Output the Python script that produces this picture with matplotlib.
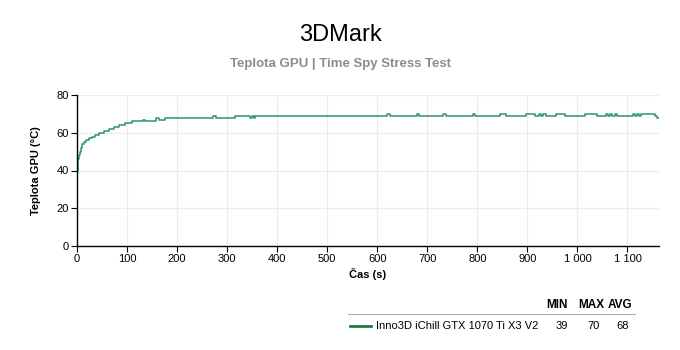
import matplotlib.pyplot as plt

plt.rcParams["font.family"] = ["Liberation Sans", "DejaVu Sans"]

# ----------------------------------------------------------------------
# Data
# ----------------------------------------------------------------------
TITLE = "3DMark"
SUBTITLE = "Teplota GPU | Time Spy Stress Test"
SERIES = "Inno3D iChill GTX 1070 Ti X3 V2"

time_s = [0, 1, 2, 3, 5, 7, 10, 14, 18, 23, 29, 36, 44, 54, 64, 74, 84, 95,
          110, 132, 135, 158, 163, 176, 272, 278, 315, 345, 350, 353, 356,
          620, 625, 680, 684, 732, 737, 792, 796, 845, 858, 897, 916, 923,
          928, 932, 937, 958, 976, 1015, 1040, 1057, 1062, 1066, 1070, 1075,
          1080, 1112, 1116, 1120, 1124, 1128, 1155, 1160, 1163]
temp_c = [39, 44, 46, 48, 50, 52, 54, 55, 56, 57, 58, 59, 60, 61, 62, 63, 64, 65,
          66, 67, 66, 68, 67, 68, 69, 68, 69, 68, 69, 68, 69,
          70, 69, 70, 69, 70, 69, 70, 69, 70, 69, 70, 69, 70,
          69, 70, 69, 70, 69, 70, 69, 70, 69, 70, 69, 70,
          69, 70, 69, 70, 69, 70, 69, 68, 68]

stat_names = ["MIN", "MAX", "AVG"]
stat_values = [39, 70, 68]

LINE = "#2a9660"
LEGEND_LINE = "#1b7f45"

# ----------------------------------------------------------------------
# Figure
# ----------------------------------------------------------------------
fig = plt.figure(figsize=(6.8, 3.5), dpi=100)
fig.patch.set_facecolor("white")

ax = fig.add_axes([77 / 680, 1 - 246 / 350, (659 - 77) / 680, (246 - 95) / 350])
ax.plot(time_s, temp_c, drawstyle="steps-post", color=LINE, lw=1.1)

ax.set_xlim(0, 1163)
ax.set_ylim(0, 80)
ax.set_xticks(range(0, 1101, 100))
ax.set_xticklabels([f"{v:,}".replace(",", " ") for v in range(0, 1101, 100)])
ax.set_yticks(range(0, 81, 20))
ax.grid(True, color="#ececec", lw=0.8)
ax.set_axisbelow(True)
for s in ("top", "right"):
    ax.spines[s].set_visible(False)
for s in ("left", "bottom"):
    ax.spines[s].set_color("black")
    ax.spines[s].set_linewidth(1.0)
ax.tick_params(length=4, width=0.8, labelsize=8, colors="black", pad=2)

ax.set_xlabel("Čas (s)", fontsize=8, fontweight="bold", labelpad=3)
ax.set_ylabel("Teplota GPU (°C)", fontsize=8, fontweight="bold", labelpad=11)

fig.text(0.5, 1 - 35 / 350, TITLE, ha="center", va="center", fontsize=17)
fig.text(0.5, 1 - 64 / 350, SUBTITLE, ha="center", va="center",
         fontsize=9.5, fontweight="bold", color="#8c8c8c")

# Legend table
stat_x = [557 / 680, 591 / 680, 620 / 680]
for x, name in zip(stat_x, stat_names):
    fig.text(x, 1 - 305 / 350, name, ha="center", va="center",
             fontsize=8.5, fontweight="bold")
fig.add_artist(plt.Line2D([348 / 680, 635 / 680], [1 - 314 / 350] * 2,
                          color="#b0b0b0", lw=0.8))
fig.add_artist(plt.Line2D([350 / 680, 371 / 680], [1 - 326 / 350] * 2,
                          color=LEGEND_LINE, lw=2))
fig.text(376 / 680, 1 - 326 / 350, SERIES, ha="left", va="center", fontsize=8)
for x, v in zip([562 / 680, 594 / 680, 623 / 680], stat_values):
    fig.text(x, 1 - 326 / 350, str(v), ha="center", va="center", fontsize=8)

fig.savefig("out.png", dpi=100, facecolor="white")
